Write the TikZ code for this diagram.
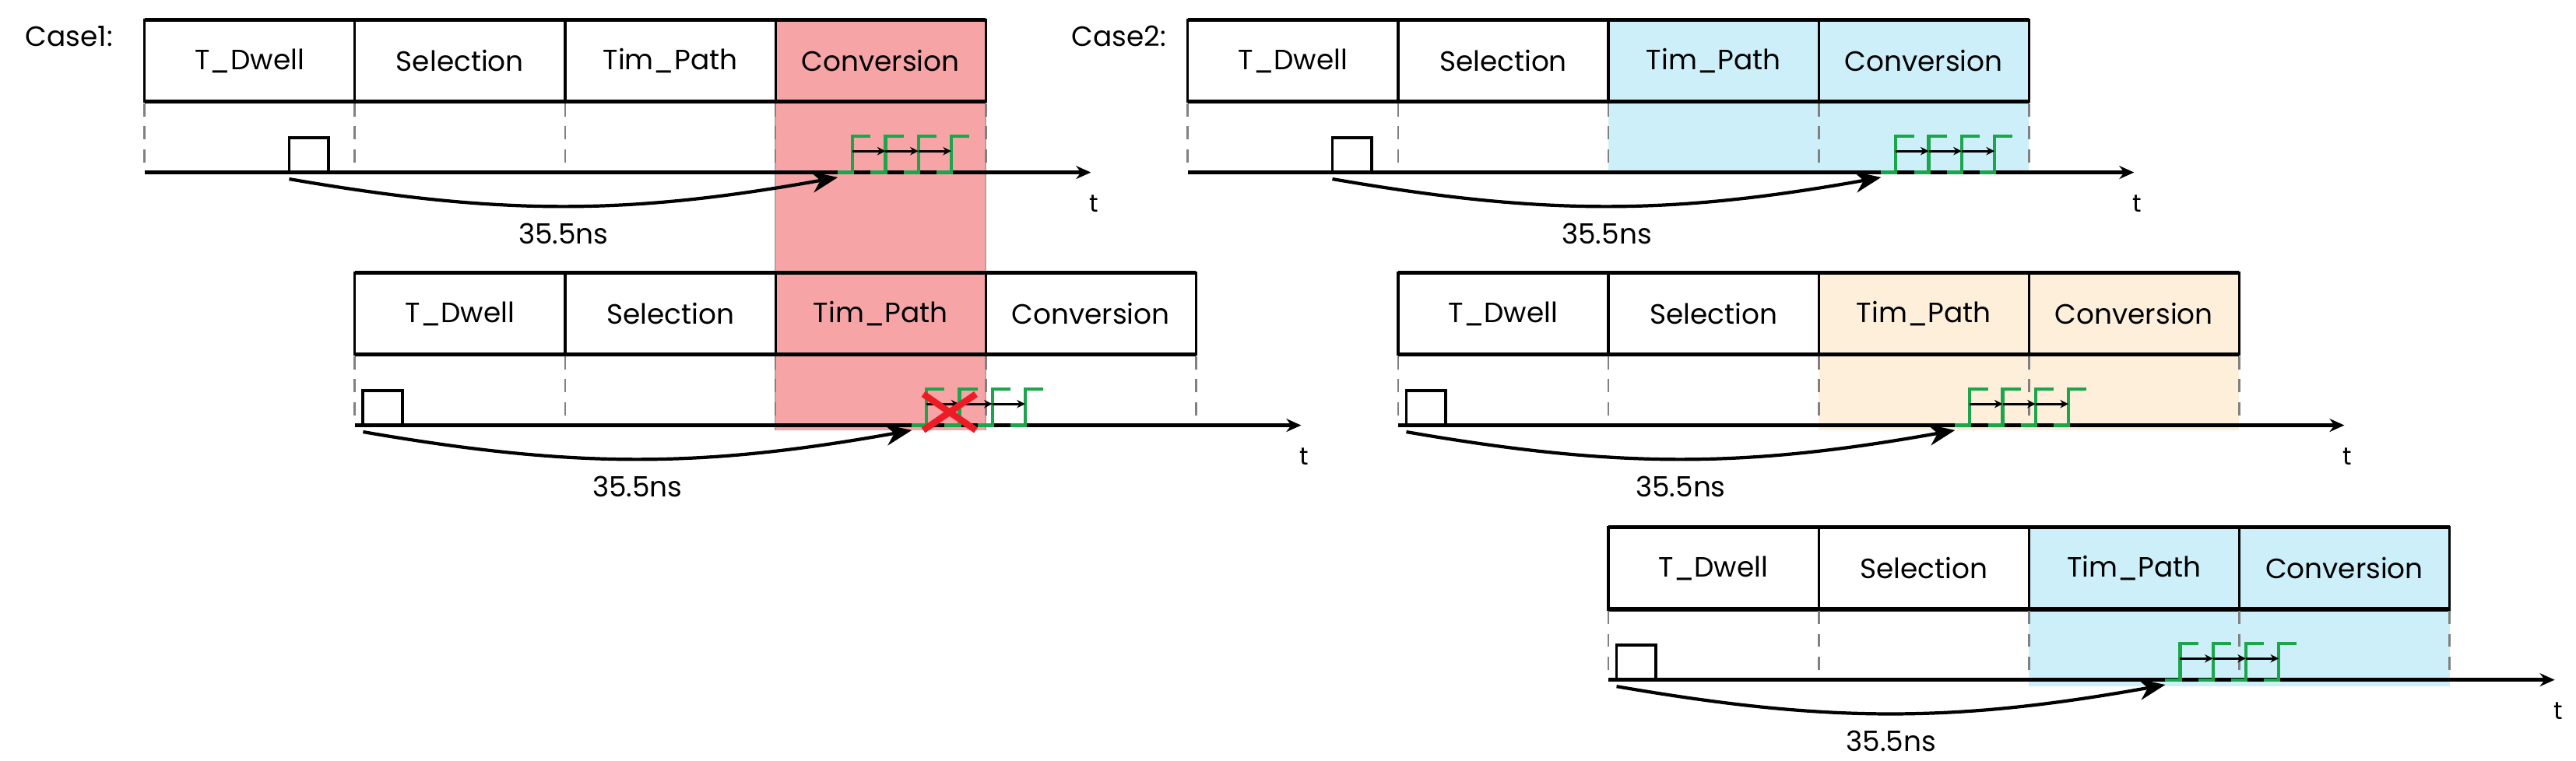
\documentclass[tikz,border=0pt]{standalone}
\usepackage{fontspec}
\setmainfont{Poppins}
\usetikzlibrary{arrows.meta, positioning}

\definecolor{pinkhl}{HTML}{F7A4A7}
\definecolor{cyanhl}{HTML}{CDEFFA}
\definecolor{beigehl}{HTML}{FDEFD9}
\definecolor{siggreen}{HTML}{1BA64B}
\definecolor{crossred}{HTML}{ED1C24}

\tikzset{
    cell/.style={rectangle, draw, line width=1.5pt, minimum width=128pt, minimum height=50pt, inner sep=0pt, outer sep=0pt, font=\fontsize{17}{20}\selectfont},
    sep/.style={gray, line width=1.3pt, dash pattern=on 8pt off 6pt},
    axis/.style={line width=2.2pt, -{Stealth[length=9pt,width=8pt]}},
    delay/.style={line width=2pt, -{Stealth[length=16pt,width=13pt]}},
    sig/.style={siggreen, line width=2pt},
    clkarrow/.style={line width=1.4pt, -{Stealth[length=5pt,width=5pt]}}
}

% one time line: #1 x0, #2 y0, #3 pulse offset, #4 name prefix
\newcommand\tline[4]{%
\begin{scope}[shift={(#1,#2)}]
    % stages
    \node[cell] (#4dw) at (64,25) {T\_Dwell};
    \node[cell, right=0pt of #4dw] (#4se) {Selection};
    \node[cell, right=0pt of #4se] (#4tp) {Tim\_Path};
    \node[cell, right=0pt of #4tp] (#4cv) {Conversion};
    \draw[line width=2.5pt] (#4dw.north west) -- (#4cv.north east);
    \draw[line width=2.5pt] (#4dw.south west) -- (#4cv.south east);
    \foreach \i in {0,128,...,512} \draw[sep] (\i,51) -- (\i,93);
    % time axis
    \coordinate (#4o) at (0,93);
    \coordinate (#4e) at (576,93);
    \draw[axis] (#4o) -- (#4e);
    \node (#4t) at (578,112) {\fontsize{15}{18}\selectfont t};
    % dwell pulse
    \draw[line width=1.8pt] (#3,93) |- (#3+24,72) -- (#3+24,93);
    \coordinate (#4p) at (#3,97);
    \coordinate (#4g) at (#3+334,96);
    % conversion clock
    \foreach \k in {0,1,2,3}
        \draw[sig] (#3+334+20*\k,93) -- (#3+343+20*\k,93) |- (#3+354+20*\k,71);
    \foreach \k in {0,1,2}
        \draw[clkarrow] (#3+343+20*\k,80) -- (#3+363+20*\k,80);
    \draw[delay] (#4p) to[bend right=10] node[below=6pt, font=\fontsize{17}{20}\selectfont] (#4l) {35.5ns} (#4g);
\end{scope}}

\begin{document}
\begin{tikzpicture}[x=1pt, y=-1pt]
    \useasboundingbox (0,0) rectangle (1568,463);

    % highlighted stages
    \fill[pinkhl] (472,12) rectangle (600,262);
    \draw[gray!70, line width=1.2pt] (472,63) -- (472,262) (600,63) -- (600,262);
    \fill[cyanhl] (979,12) rectangle (1235,105);
    \fill[beigehl] (1107,166) rectangle (1363,262);
    \fill[cyanhl] (1235,321) rectangle (1491,418);

    \node (case1) at (42,22) {\fontsize{17}{20}\selectfont Case1:};
    \node (case2) at (681,22) {\fontsize{17}{20}\selectfont Case2:};

    \tline{88}{12}{88}{a}
    \tline{216}{166}{5}{b}
    \tline{723}{12}{88}{c}
    \tline{851}{166}{5}{d}
    \tline{979}{321}{5}{f}

    % lost conversion
    \coordinate (xa) at (562,240);
    \coordinate (xb) at (594,262);
    \draw[crossred, line width=4pt] (xa) -- (xb) (xa |- xb) -- (xb |- xa);
\end{tikzpicture}
\end{document}
